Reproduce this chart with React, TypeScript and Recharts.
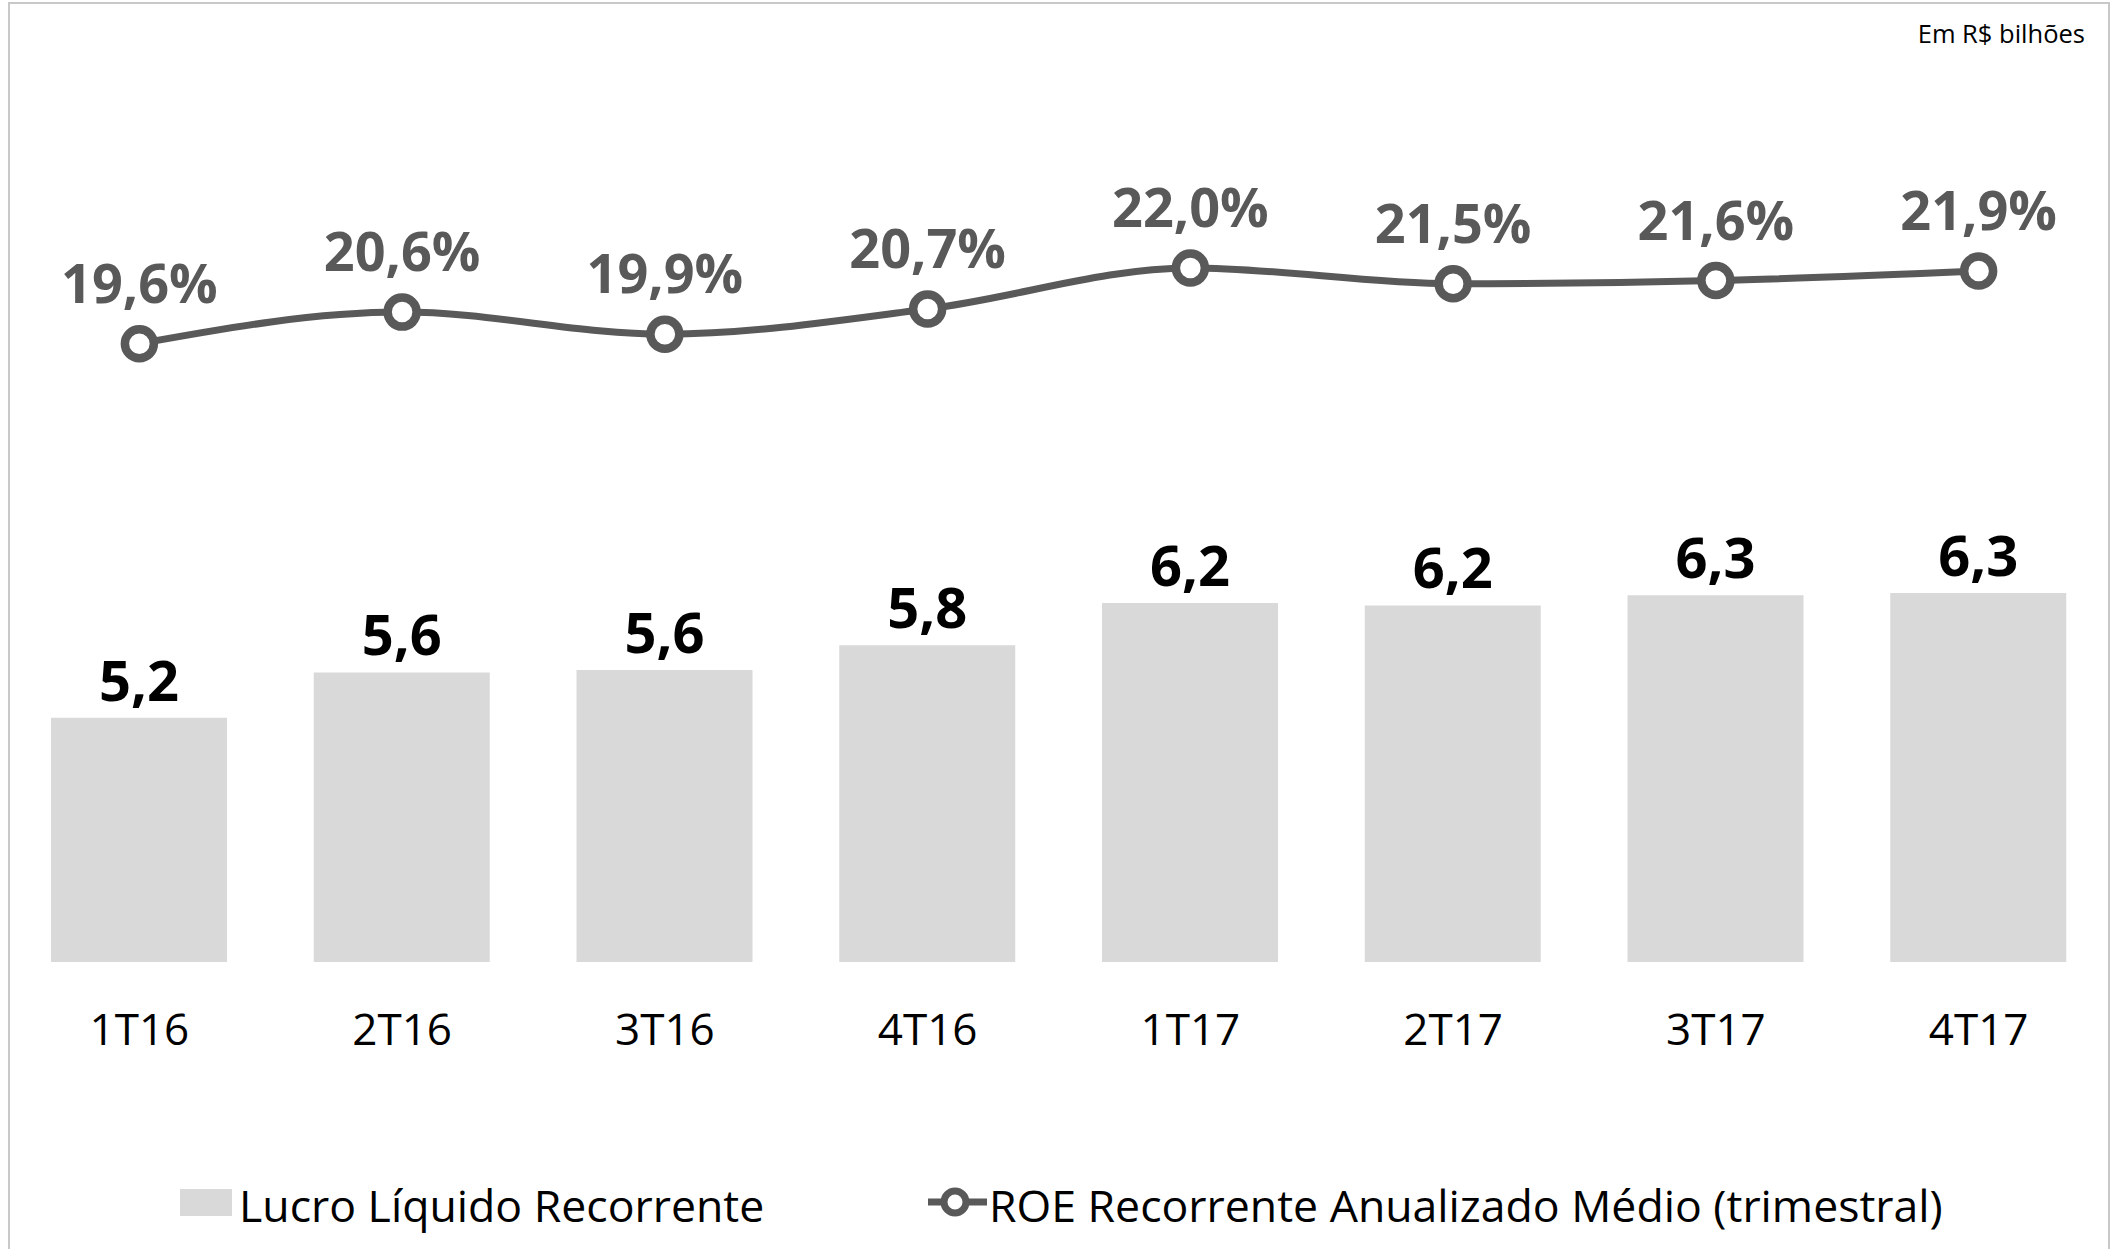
import React from "react";
import { ComposedChart, Bar, Line, XAxis, YAxis, LabelList, Legend } from "recharts";

const quarters = ["1T16", "2T16", "3T16", "4T16", "1T17", "2T17", "3T17", "4T17"];
// Lucro Líquido Recorrente (R$ bi)
const lucro = [5.2, 5.6, 5.62, 5.84, 6.21, 6.19, 6.28, 6.3];
// ROE Recorrente Anualizado Médio (%)
const roe = [19.6, 20.6, 19.9, 20.7, 22.0, 21.5, 21.6, 21.9];

const data = quarters.map((q, i) => ({ q, lucro: lucro[i], roe: roe[i] }));

const FONT = "'Open Sans', sans-serif";
const GREY = "#595959";
const BAR = "#d9d9d9";

const fmt = (v: number, dec = 1) => v.toFixed(dec).replace(".", ",");

const BarLabel = (p: any) => (
    <text x={p.x + p.width / 2} y={p.y - 17} textAnchor="middle" fontSize={56} fontWeight={700} fill="#000" fontFamily={FONT}>
        {fmt(p.value)}
    </text>
);

const RoeLabel = (p: any) => (
    <text x={p.x} y={p.y - 41} textAnchor="middle" fontSize={54} fontWeight={700} fill={GREY} fontFamily={FONT}>
        {fmt(p.value)}%
    </text>
);

const LegendBox = () => (
    <svg width={2102} height={80} style={{ display: "block" }}>
        <rect x={172} y={29} width={52} height={27} fill={BAR} />
        <text x={231} y={62} fontSize={44.6} fill="#000" fontFamily={FONT}>Lucro Líquido Recorrente</text>
        <line x1={920} y1={42} x2={979} y2={42} stroke={GREY} strokeWidth={7} />
        <circle cx={947} cy={42} r={11} fill="#fff" stroke={GREY} strokeWidth={7} />
        <text x={981} y={62} fontSize={44.6} fill="#000" fontFamily={FONT}>ROE Recorrente Anualizado Médio (trimestral)</text>
    </svg>
);

export default function App() {
    return (
        <div style={{ position: "absolute", left: 0, top: 0, width: 2119, height: 1249, overflow: "hidden", background: "#fff", fontFamily: FONT }}>
            {/* frame */}
            <div style={{ position: "absolute", left: 8, top: 2, width: 2102, height: 1300, border: "2px solid #c8c8c8", boxSizing: "border-box" }} />
            <div style={{ position: "absolute", left: 0, top: 21, width: 2085, textAlign: "right", fontSize: 25.5, lineHeight: "25px", color: "#000" }}>
                Em R$ bilhões
            </div>
            <div style={{ position: "absolute", left: 8, top: 0 }}>
                <ComposedChart width={2102} height={1249} data={data} margin={{ top: 167, right: 0, bottom: 257, left: 0 }}>
                    <XAxis
                        dataKey="q"
                        axisLine={false}
                        tickLine={false}
                        tickSize={6}
                        tickMargin={46}
                        interval={0}
                        tick={{ fontSize: 44, fill: "#000", fontFamily: FONT }}
                    />
                    <YAxis yAxisId="bar" hide domain={[3.05, 10.05]} />
                    <YAxis yAxisId="roe" hide domain={[0, 25.2]} orientation="right" />
                    <Bar yAxisId="bar" dataKey="lucro" fill={BAR} barSize={176} isAnimationActive={false}>
                        <LabelList dataKey="lucro" content={BarLabel} />
                    </Bar>
                    <Line
                        yAxisId="roe"
                        type="monotone"
                        dataKey="roe"
                        stroke={GREY}
                        strokeWidth={7}
                        dot={{ r: 14.5, fill: "#fff", stroke: GREY, strokeWidth: 8.5 }}
                        activeDot={false}
                        isAnimationActive={false}
                    >
                        <LabelList dataKey="roe" content={RoeLabel} />
                    </Line>
                    <Legend
                        verticalAlign="middle"
                        align="center"
                        layout="horizontal"
                        wrapperStyle={{ top: 1160, left: 0, width: 2102, height: 80 }}
                        content={LegendBox}
                    />
                </ComposedChart>
            </div>
        </div>
    );
}
